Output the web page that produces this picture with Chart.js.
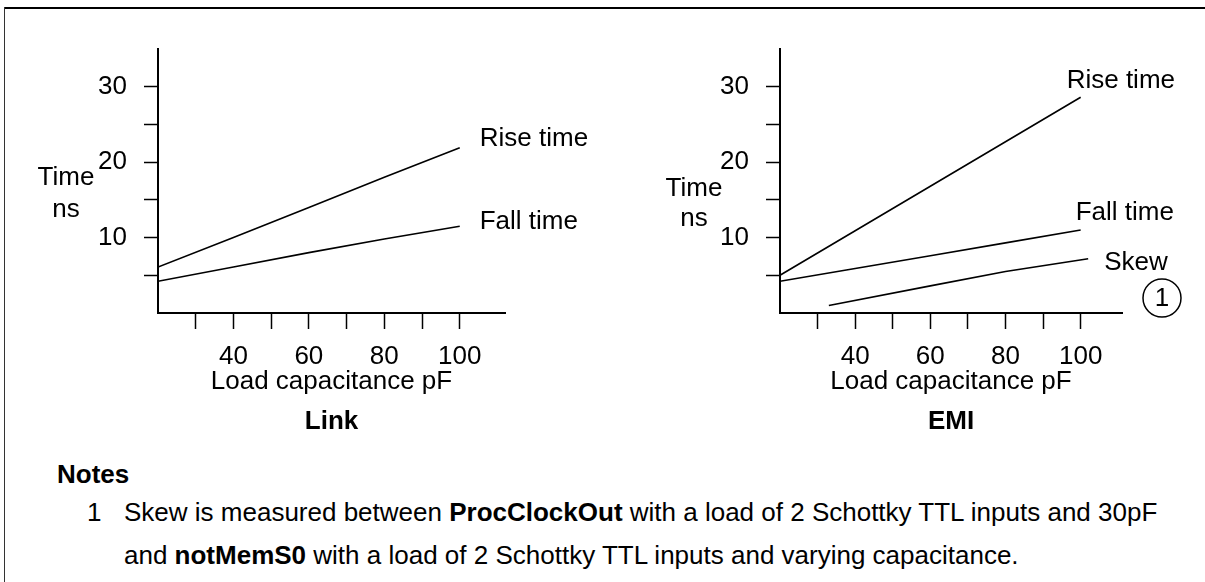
<!DOCTYPE html>
<html>
<head>
<meta charset="utf-8">
<script src="https://cdn.jsdelivr.net/npm/chart.js@4/dist/chart.umd.min.js"></script>
<style>
  html, body { margin: 0; padding: 0; background: #fff; }
  body { width: 1205px; height: 582px; position: relative; overflow: hidden;
         font-family: 'Liberation Sans', Arial, Helvetica, sans-serif; color: #000; }
  .frameTop { position: absolute; left: 4px; right: 0; top: 7px; height: 2px; background: #000; }
  .frameLeft { position: absolute; left: 4px; top: 7px; bottom: 0; width: 1px; background: #333; }
  canvas { position: absolute; top: 0; }
  #linkChart { left: 0; }
  #emiChart { left: 600px; }
  .notes { position: absolute; font-size: 26px; white-space: nowrap; }
  .notes b { font-weight: bold; }
</style>
</head>
<body>
<div class="frameTop"></div>
<div class="frameLeft"></div>
<canvas id="linkChart" width="600" height="440"></canvas>
<canvas id="emiChart" width="605" height="440"></canvas>

<div class="notes" style="left:57px; top:459px;"><b>Notes</b></div>
<div class="notes" style="left:87px; top:497px;">1</div>
<div class="notes" style="left:124px; top:497px;">Skew is measured between <b>ProcClockOut</b> with a load of 2 Schottky TTL inputs and 30pF</div>
<div class="notes" style="left:124px; top:540px;">and <b>notMemS0</b> with a load of 2 Schottky TTL inputs and varying capacitance.</div>

<script>
// load capacitance (pF) and switching times (ns)
const linkLoad = [20, 40, 60, 80, 100];
const linkRise = [6.1, 10.0, 14.0, 18.0, 21.9];
const linkFall = [4.2, 6.1, 8.0, 9.8, 11.5];

const emiLoad = [20, 40, 60, 80, 100];
const emiRise = [5.0, 10.9, 16.8, 22.7, 28.6];
const emiFall = [4.2, 5.9, 7.6, 9.3, 11.0];

const skewLoad = [33, 60, 80, 102];
const skewTime = [1.0, 3.6, 5.5, 7.2];

const xTickLabels = [40, 60, 80, 100];
const yTickLabels = [10, 20, 30];

const FONT = "'Liberation Sans', Arial, Helvetica, sans-serif";
const INK = '#000';

function points(xs, ys) {
  return xs.map((x, i) => ({ x: x, y: ys[i] }));
}

function series(label, xs, ys) {
  return {
    label: label,
    data: points(xs, ys),
    borderColor: INK,
    borderWidth: 1.6,
    pointRadius: 0,
    tension: 0,
    fill: false
  };
}

// text that Chart.js has no slot for: series names at line ends,
// the stacked "Time / ns" axis title, the caption and the note marker
const figureText = {
  id: 'figureText',
  afterDatasetsDraw(chart, args, opts) {
    const ctx = chart.ctx;
    const area = chart.chartArea;
    ctx.save();
    ctx.fillStyle = INK;
    ctx.font = '26px ' + FONT;
    ctx.textBaseline = 'middle';
    ctx.textAlign = 'left';

    chart.data.datasets.forEach((ds, i) => {
      const pts = chart.getDatasetMeta(i).data;
      const end = pts[pts.length - 1];
      const off = opts.labelOffsets[i];
      ctx.fillText(ds.label, end.x + off[0], end.y + off[1]);
    });

    ctx.textAlign = 'center';
    opts.yTitle.forEach((line, i) => {
      ctx.fillText(line, area.left + opts.yTitleDx, area.top + opts.yTitleDy + i * opts.yTitleGap);
    });

    ctx.font = 'bold 26px ' + FONT;
    ctx.fillText(opts.caption, (area.left + area.right) / 2, area.bottom + opts.captionDy);

    if (opts.marker) {
      const cx = area.right + opts.marker.dx;
      const cy = area.bottom + opts.marker.dy;
      ctx.beginPath();
      ctx.lineWidth = 1.5;
      ctx.strokeStyle = INK;
      ctx.arc(cx, cy, 19, 0, Math.PI * 2);
      ctx.stroke();
      ctx.font = '26px ' + FONT;
      ctx.fillText(opts.marker.text, cx, cy + 1);
    }
    ctx.restore();
  }
};

function makeChart(id, datasets, xMax, yAxisWidth, padRight, yTickPad, textOpts) {
  const tickColor = (lo, hi) => (c) => (c.tick && c.tick.value > lo && c.tick.value < hi ? INK : 'rgba(0,0,0,0)');
  return new Chart(document.getElementById(id), {
    type: 'line',
    data: { datasets: datasets },
    plugins: [figureText],
    options: {
      responsive: false,
      animation: false,
      devicePixelRatio: 1,
      layout: { padding: { left: 0, top: 49, right: padRight, bottom: 0 } },
      scales: {
        x: {
          type: 'linear',
          min: 20,
          max: xMax,
          afterFit: (s) => { s.height = 127; },
          border: { display: true, color: INK, width: 2 },
          grid: { drawOnChartArea: false, drawTicks: true, tickLength: 16, tickWidth: 1.5, color: tickColor(20, 101) },
          ticks: {
            stepSize: 10,
            padding: 12,
            maxRotation: 0,
            autoSkip: false,
            color: INK,
            font: { family: FONT, size: 26 },
            callback: (v) => (xTickLabels.includes(v) ? String(v) : '')
          },
          title: {
            display: true,
            text: 'Load capacitance pF',
            color: INK,
            font: { family: FONT, size: 26 },
            padding: { top: 0, bottom: 43 }
          }
        },
        y: {
          type: 'linear',
          min: 0,
          max: 35,
          afterFit: (s) => { s.width = yAxisWidth; },
          border: { display: true, color: INK, width: 2 },
          grid: { drawOnChartArea: false, drawTicks: true, tickLength: 14, tickWidth: 1.5, color: tickColor(0, 35) },
          ticks: {
            stepSize: 5,
            padding: yTickPad,
            autoSkip: false,
            color: INK,
            font: { family: FONT, size: 26 },
            callback: (v) => (yTickLabels.includes(v) ? String(v) : '')
          }
        }
      },
      plugins: {
        legend: { display: false },
        tooltip: { enabled: false },
        title: { display: false },
        figureText: textOpts
      }
    }
  });
}

const linkChart = makeChart('linkChart', [
  series('Rise time', linkLoad, linkRise),
  series('Fall time', linkLoad, linkFall)
], 112, 158, 95, 17, {
  labelOffsets: [[20, -9], [20, -4]],
  yTitle: ['Time', 'ns'],
  yTitleDx: -92, yTitleDy: 129, yTitleGap: 32,
  caption: 'Link', captionDy: 109
});

const emiChart = makeChart('emiChart', [
  series('Rise time', emiLoad, emiRise),
  series('Fall time', emiLoad, emiFall),
  series('Skew', skewLoad, skewTime)
], 111, 180, 83, 17, {
  labelOffsets: [[-14, -16], [-5, -17], [16, 4]],
  yTitle: ['Time', 'ns'],
  yTitleDx: -86, yTitleDy: 140, yTitleGap: 30,
  caption: 'EMI', captionDy: 109,
  marker: { text: '1', dx: 40, dy: -15 }
});
</script>
</body>
</html>
